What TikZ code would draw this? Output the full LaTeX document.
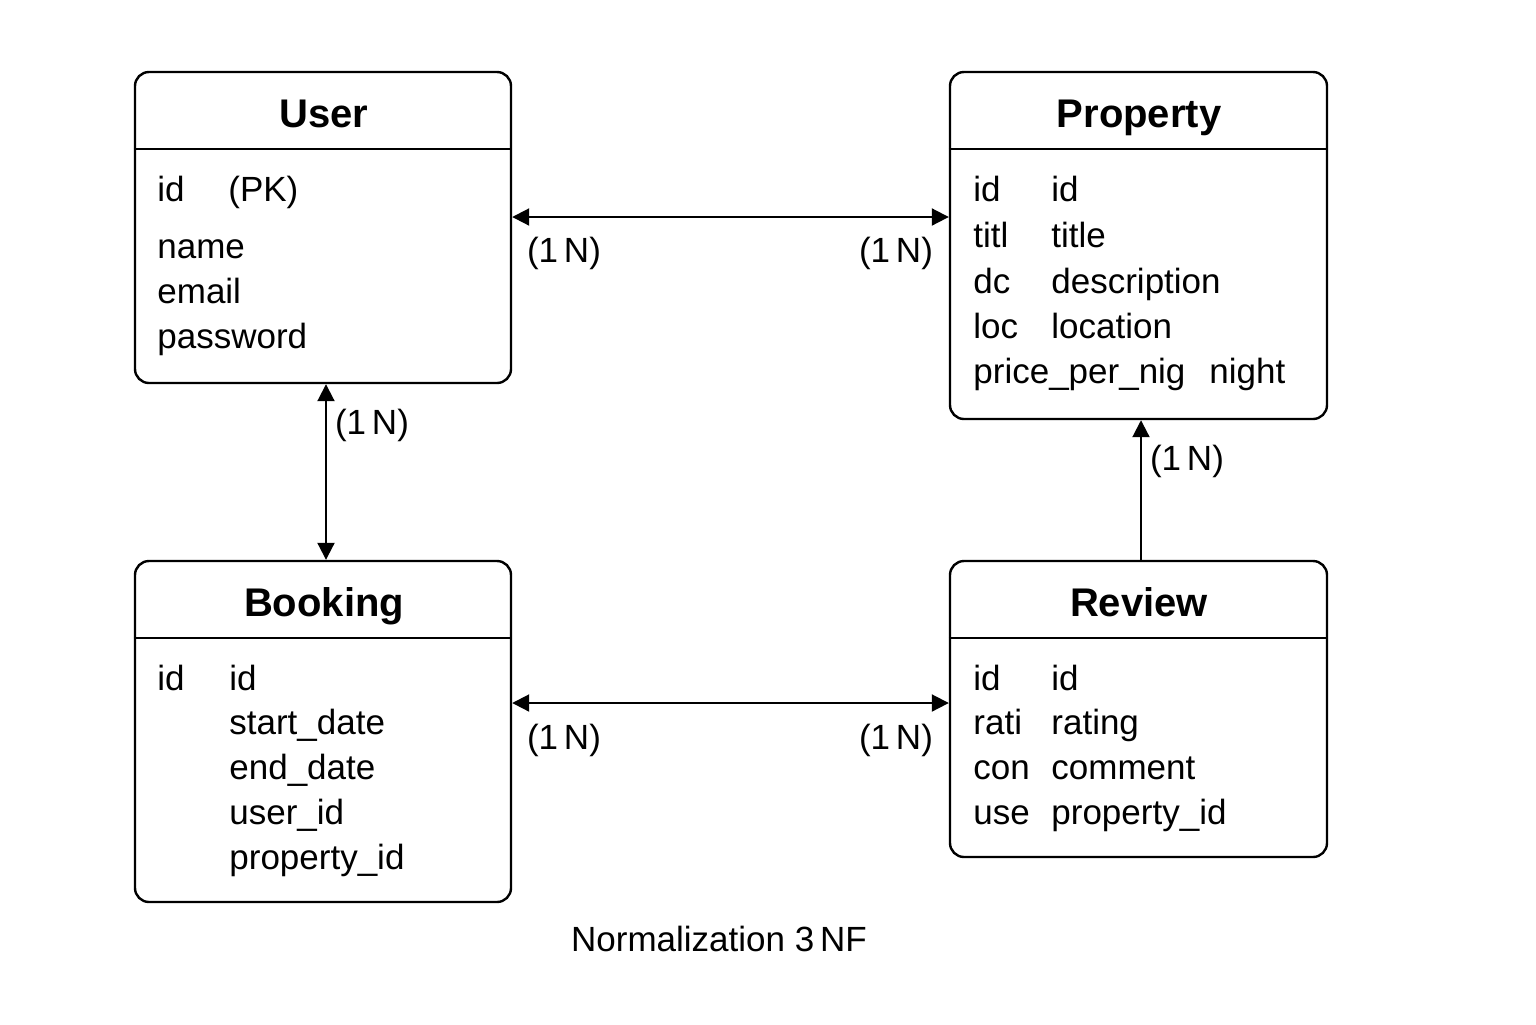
\documentclass[tikz,border=0pt]{standalone}
\usepackage{fontspec}
\setmainfont{Liberation Sans}
\usetikzlibrary{arrows.meta}
\begin{document}
\begin{tikzpicture}[x=0.5pt,y=-0.5pt,
  ebox/.style={draw, line width=1.2pt, rounded corners=7pt, inner sep=0pt, fill=none},
  etitle/.style={anchor=base, font=\fontsize{20}{24}\selectfont\bfseries, inner sep=0pt},
  fld/.style={anchor=base west, font=\fontsize{17.5}{21}\selectfont, inner sep=0pt},
  lbl/.style={font=\fontsize{17.5}{21}\selectfont, inner sep=0pt},
  conn/.style={line width=1pt},
  tip/.style={-{Triangle[length=8.5pt,width=8.5pt]}},
  bitip/.style={{Triangle[length=8.5pt,width=8.5pt]}-{Triangle[length=8.5pt,width=8.5pt]}}
]
\useasboundingbox (0,0) rectangle (1536,1024);
\fill[white] (0,0) rectangle (1536,1024);

% boxes
\node[ebox, minimum width=188pt, minimum height=155.5pt] (user) at (323,227.5) {};
\node[ebox, minimum width=188.5pt, minimum height=173.5pt] (property) at (1138.5,245.5) {};
\node[ebox, minimum width=188pt, minimum height=170.5pt] (booking) at (323,731.5) {};
\node[ebox, minimum width=188.5pt, minimum height=148pt] (review) at (1138.5,709) {};

% header separators
\draw[line width=1.2pt] (user.west |- 0,149) -- (user.east |- 0,149);
\draw[line width=1.2pt] (property.west |- 0,149) -- (property.east |- 0,149);
\draw[line width=1.2pt] (booking.west |- 0,638) -- (booking.east |- 0,638);
\draw[line width=1.2pt] (review.west |- 0,638) -- (review.east |- 0,638);

% titles
\node[etitle] (tuser) at (324,127) {User};
\node[etitle] (tprop) at (1139,127) {Property};
\node[etitle] (tbook) at (324,616) {Booking};
\node[etitle] (trev) at (1139,616) {Review};

% User fields
\node[fld] (u1) at (157,201) {id};
\node[fld] (u1b) at (228,201) {(PK)};
\node[fld] (u2) at (157,258) {name};
\node[fld] (u3) at (157,303) {email};
\node[fld] (u4) at (157,348) {password};

% Property fields
\node[fld] (p1) at (973,201) {id};
\node[fld] (p1b) at (1051,201) {id};
\node[fld] (p2) at (973,247) {titl};
\node[fld] (p2b) at (1051,247) {title};
\node[fld] (p3) at (973,293) {dc};
\node[fld] (p3b) at (1051,293) {description};
\node[fld] (p4) at (973,338) {loc};
\node[fld] (p4b) at (1051,338) {location};
\node[fld] (p5) at (973,383) {price\_per\_nig};
\node[fld] (p5b) at (1209,383) {night};

% Booking fields
\node[fld] (b1) at (157,690) {id};
\node[fld] (b1b) at (229,690) {id};
\node[fld] (b2) at (229,734) {start\_date};
\node[fld] (b3) at (229,779) {end\_date};
\node[fld] (b4) at (229,824) {user\_id};
\node[fld] (b5) at (229,869) {property\_id};

% Review fields
\node[fld] (r1) at (973,690) {id};
\node[fld] (r1b) at (1051,690) {id};
\node[fld] (r2) at (973,734) {rati};
\node[fld] (r2b) at (1051,734) {rating};
\node[fld] (r3) at (973,779) {con};
\node[fld] (r3b) at (1051,779) {comment};
\node[fld] (r4) at (973,824) {use};
\node[fld] (r4b) at (1051,824) {property\_id};

% connectors
\draw[conn, bitip] (user.east |- 0,217) -- (property.west |- 0,217);
\draw[conn, bitip] (user.south -| 326,0) -- (booking.north -| 326,0);
\draw[conn, bitip] (booking.east |- 0,703) -- (review.west |- 0,703);
\draw[conn, tip] (review.north -| 1141,0) -- (property.south -| 1141,0);

% cardinality labels
\node[lbl] (l1) at (564,253) {(1\,N)};
\node[lbl] (l2) at (896,253) {(1\,N)};
\node[lbl] (l3) at (372,425) {(1\,N)};
\node[lbl] (l4) at (564,740) {(1\,N)};
\node[lbl] (l5) at (896,740) {(1\,N)};
\node[lbl] (l6) at (1187,461) {(1\,N)};

% caption
\node[lbl] (cap) at (719,939) {Normalization 3\,NF};
\end{tikzpicture}
\end{document}
